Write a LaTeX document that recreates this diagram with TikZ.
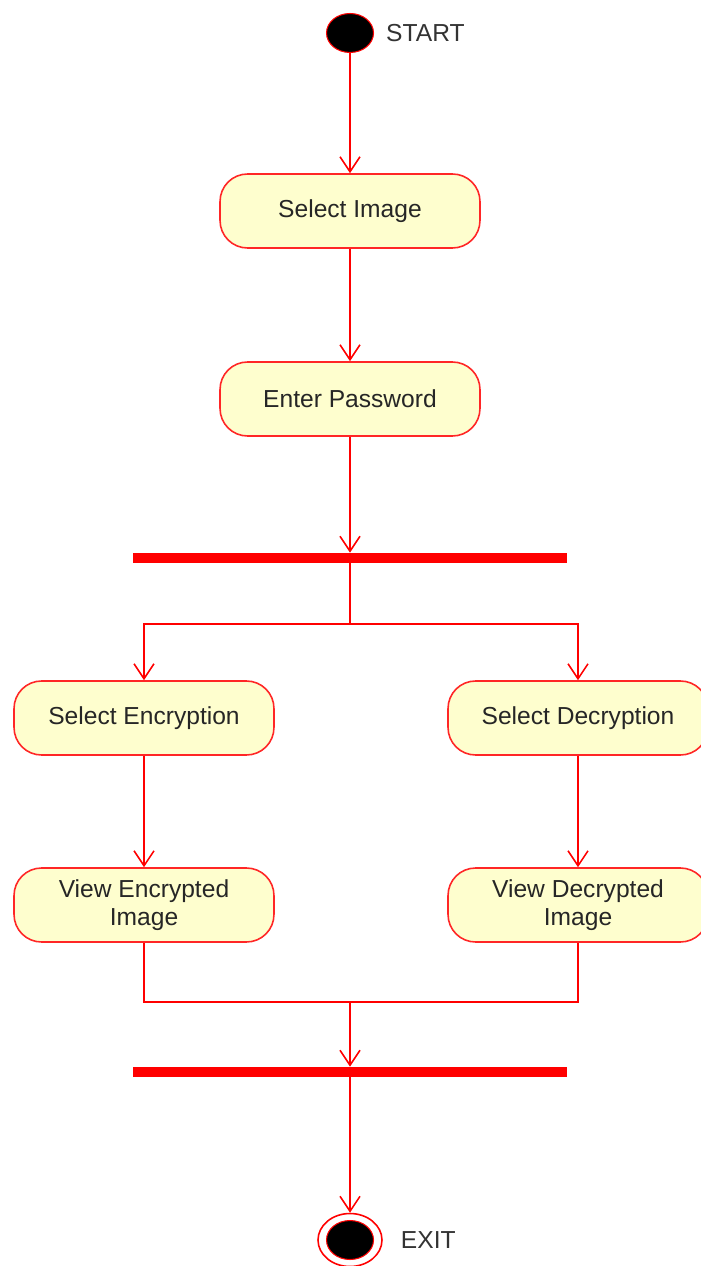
\documentclass[tikz,border=0pt]{standalone}
\usepackage{fontspec}
\setmainfont{Liberation Sans}
\usepackage{xcolor}
\usepackage{tikz}
\usetikzlibrary{positioning}
\usetikzlibrary{arrows.meta}
\usetikzlibrary{shapes.geometric}

\definecolor{actfill}{HTML}{FEFECE}
\definecolor{actline}{HTML}{FF2626}

\begin{document}
\begin{tikzpicture}[
			x=0.02cm, y=-0.02cm,
			activity/.style = {rectangle, rounded corners=0.55cm, draw=actline, fill=actfill, line width=0.9pt, minimum width=5.2cm, minimum height=1.48cm, align=center, text=black!85, font=\fontsize{14}{16}\selectfont},
			bar/.style      = {rectangle, fill=red, minimum width=8.68cm, minimum height=0.2cm, inner sep=0pt},
			dot/.style      = {ellipse, fill=black, draw=red, line width=0.6pt, minimum width=0.94cm, minimum height=0.78cm, inner sep=0pt},
			ring/.style     = {ellipse, fill=white, draw=red, line width=0.9pt, minimum width=1.28cm, minimum height=1.06cm, inner sep=0pt},
			statetext/.style = {text=black!80, font=\fontsize{14}{16}\selectfont},
			edge/.style     = {-{Straight Barb[length=3mm,width=4mm]}, draw=red, line width=0.9pt},
			flow/.style     = {draw=red, line width=0.9pt}
			]
			\useasboundingbox (0,0) rectangle (700,1266);

			% start
			\node[dot] (start) at (350,33) {};
			\node[statetext, right=0.12cm of start] (starttext) {START};

			% activities
			\node[activity] (selimg) at (350,211) {Select Image};
			\node[activity] (passwd) at (350,399) {Enter Password};
			\node[bar] (fork) at (350,558) {};
			\coordinate (split) at (350,624);
			\node[activity] (selenc) at (144,718) {Select Encryption};
			\node[activity] (seldec) at (578,718) {Select Decryption};
			\node[activity] (viewenc) at (144,905) {View Encrypted\\Image};
			\node[activity] (viewdec) at (578,905) {View Decrypted\\Image};
			\coordinate (merge) at (350,1002);
			\node[bar] (join) at (350,1072) {};

			% exit
			\node[ring] (exit) at (350,1240) {};
			\node[dot] (exitdot) at (350,1240) {};
			\node[statetext, right=0.24cm of exit] (exittext) {EXIT};

			% arrows
			\foreach \u/\v in {start/selimg, selimg/passwd, passwd/fork, selenc/viewenc, seldec/viewdec, merge/join, join/exit}
			\draw[edge] (\u) -- (\v);
			\draw[flow] (fork) -- (split);
			\draw[edge] (split) -| (selenc);
			\draw[edge] (split) -| (seldec);
			\draw[flow] (viewenc) |- (merge);
			\draw[flow] (viewdec) |- (merge);
		\end{tikzpicture}
\end{document}
